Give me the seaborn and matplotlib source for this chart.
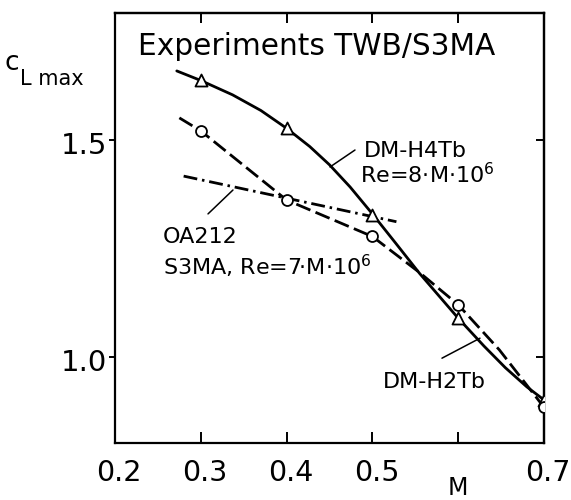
import matplotlib
matplotlib.use("Agg")
import matplotlib.pyplot as plt
import seaborn as sns
from matplotlib.transforms import ScaledTranslation

# ---- data ----
# DM-H4Tb / DM-H2Tb : solid curve with triangles
h4_curve_M = [0.272, 0.300, 0.337, 0.370, 0.400, 0.427, 0.450, 0.474, 0.500,
              0.527, 0.555, 0.600, 0.630, 0.655, 0.680, 0.700]
h4_curve_C = [1.659, 1.637, 1.604, 1.568, 1.527, 1.485, 1.443, 1.392, 1.330,
              1.263, 1.193, 1.090, 1.026, 0.976, 0.932, 0.902]
tri_M = [0.3, 0.4, 0.5, 0.6, 0.7]
tri_C = [1.637, 1.527, 1.328, 1.090, 0.902]
# S3MA : dashed curve with circles
s3_curve_M = [0.275, 0.300, 0.400, 0.500, 0.555, 0.600, 0.648, 0.700]
s3_curve_C = [1.551, 1.521, 1.362, 1.278, 1.195, 1.121, 1.017, 0.885]
circ_M = [0.3, 0.4, 0.5, 0.6, 0.7]
circ_C = [1.521, 1.362, 1.278, 1.121, 0.885]
# OA212 : dash-dot line
oa_M = [0.280, 0.528]
oa_C = [1.417, 1.312]

x_ticks = [0.2, 0.3, 0.4, 0.5, 0.6, 0.7]
x_tick_labels = ["0.2", "0.3", "0.4", "0.5", "", "0.7"]
top_ticks = [0.3, 0.4, 0.5, 0.6]
y_ticks = [1.0, 1.5]
y_tick_labels = ["1.0", "1.5"]

# ---- style ----
sns.set_style("ticks")
plt.rcParams["font.family"] = ["DejaVu Sans"]
plt.rcParams["mathtext.fontset"] = "dejavusans"
plt.rcParams["lines.scale_dashes"] = False
plt.rcParams["axes.edgecolor"] = "black"
plt.rcParams["text.color"] = "black"
plt.rcParams["xtick.color"] = "black"
plt.rcParams["ytick.color"] = "black"
plt.rcParams["xtick.labelcolor"] = "black"
plt.rcParams["ytick.labelcolor"] = "black"

fig = plt.figure(figsize=(5.71, 5.0), dpi=100)
ax = fig.add_axes([115 / 571, 1 - 442.7 / 500, (544 - 115) / 571, 430 / 500])

sns.lineplot(x=h4_curve_M, y=h4_curve_C, sort=False, estimator=None,
             color="black", lw=2.0, ax=ax)
sns.lineplot(x=s3_curve_M, y=s3_curve_C, sort=False, estimator=None,
             color="black", lw=2.0, ax=ax)
ax.lines[-1].set_dashes([11, 4])
sns.lineplot(x=oa_M, y=oa_C, sort=False, estimator=None,
             color="black", lw=2.0, ax=ax)
ax.lines[-1].set_dashes([10, 3.5, 1.8, 3.5])

sns.scatterplot(x=tri_M, y=tri_C, marker="^", s=75, color="white",
                edgecolor="black", linewidth=1.3, zorder=5, ax=ax)
sns.scatterplot(x=circ_M, y=circ_C, marker="o", s=62, color="white",
                edgecolor="black", linewidth=1.3, zorder=5, ax=ax)

ax.set_xlim(0.2, 0.7)
ax.set_ylim(0.8035, 1.793)
ax.set_xlabel("")
ax.set_ylabel("")

for s in ax.spines.values():
    s.set_visible(True)
    s.set_linewidth(1.6)
    s.set_color("black")

ax.set_xticks(x_ticks)
ax.set_xticklabels(x_tick_labels, fontsize=20.5)
ax.set_yticks(y_ticks)
ax.set_yticklabels(y_tick_labels, fontsize=21)
ax.tick_params(axis="x", direction="in", length=8, width=1.4, pad=11.5,
               top=False, colors="black")
ax.tick_params(axis="y", direction="out", length=4.5, width=1.4, pad=1,
               right=False, colors="black")
for lab in ax.get_xticklabels():
    lab.set_transform(lab.get_transform() + ScaledTranslation(4 / 100, 0, fig.dpi_scale_trans))
for lab in ax.get_yticklabels():
    lab.set_transform(lab.get_transform() + ScaledTranslation(0, -3 / 100, fig.dpi_scale_trans))

secx = ax.secondary_xaxis("top")
secx.set_xticks(top_ticks)
secx.tick_params(axis="x", direction="in", length=7, width=1.4, labeltop=False)
secx.spines["top"].set_linewidth(1.6)
secy = ax.secondary_yaxis("right")
secy.set_yticks(y_ticks)
secy.tick_params(axis="y", direction="in", length=6, width=1.4, labelright=False)
secy.spines["right"].set_linewidth(1.6)

# ---- texts ----
ax.text(0.227, 1.695, "Experiments TWB/S3MA", fontsize=21.3, va="baseline", ha="left")
ax.text(0.600, 0.683, "M", fontsize=17, va="baseline", ha="center", clip_on=False)
fig.text(5 / 571, 1 - 70 / 500, "c", fontsize=19, va="baseline", ha="left")
fig.text(20 / 571, 1 - 85 / 500, "L max", fontsize=15, va="baseline", ha="left")

ax.text(0.490, 1.461, "DM-H4Tb", fontsize=16, va="baseline", ha="left")
ax.text(0.4855, 1.401, "Re=8·M·10$^6$", fontsize=16, va="baseline", ha="left")
ax.plot([0.4797, 0.4506], [1.477, 1.438], color="black", lw=1.1)

ax.text(0.2559, 1.263, "OA212", fontsize=16, va="baseline", ha="left")
ax.plot([0.3084, 0.3375], [1.330, 1.385], color="black", lw=1.1)
ax.text(0.2559, 1.189, "S3MA, Re=7·M·10$^6$", fontsize=16, va="baseline", ha="left")

ax.text(0.5124, 0.929, "DM-H2Tb", fontsize=16, va="baseline", ha="left")
ax.plot([0.5811, 0.6254], [0.998, 1.044], color="black", lw=1.1)

fig.savefig("out.png", dpi=100)
